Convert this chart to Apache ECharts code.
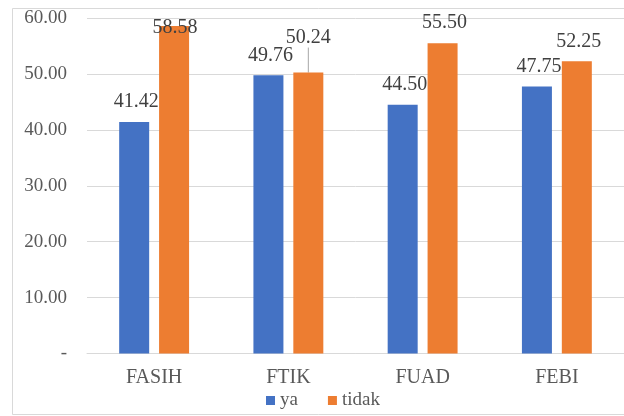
<!DOCTYPE html>
<html>
<head>
<meta charset="utf-8">
<script src="https://cdn.jsdelivr.net/npm/echarts@6/dist/echarts.min.js"></script>
<style>
html,body{margin:0;padding:0;background:#fff;}
#main{width:624px;height:416px;}
</style>
</head>
<body>
<div id="main"></div>
<script>
var categories = ['FASIH', 'FTIK', 'FUAD', 'FEBI'];
var yaValues = [41.42, 49.76, 44.50, 47.75];
var tidakValues = [58.58, 50.24, 55.50, 52.25];
var seriesNames = ['ya', 'tidak'];
var yTicks = [0, 10, 20, 30, 40, 50, 60];

var FONT = 'Liberation Serif';
var chart = echarts.init(document.getElementById('main'), null, {renderer: 'canvas'});

function labelStyle() {
  return {
    show: true, position: 'top', distance: 10,
    fontFamily: FONT, fontSize: 20, color: '#404040',
    formatter: function (p) { return p.value.toFixed(2); }
  };
}

var tidakData = tidakValues.map(function (v, i) {
  var d = {value: v};
  if (i === 1) d.labelLine = {show: true};
  return d;
});

chart.setOption({
  animation: false,
  backgroundColor: '#ffffff',
  graphic: [{
    type: 'rect', shape: {x: 12.5, y: 8.5, width: 640, height: 406},
    style: {fill: 'none', stroke: '#d9d9d9', lineWidth: 1}, silent: true, z: -1
  }],
  grid: {left: 87, width: 547, top: 18, bottom: 62.5},
  legend: {
    data: seriesNames, left: 261, bottom: 1, icon: 'rect',
    itemWidth: 9, itemHeight: 9, itemGap: 30,
    textStyle: {fontFamily: FONT, fontSize: 19, color: '#595959'}
  },
  xAxis: {
    type: 'category', data: categories,
    axisLine: {lineStyle: {color: '#d9d9d9'}},
    axisTick: {show: false},
    axisLabel: {fontFamily: FONT, fontSize: 20, color: '#595959', margin: 14}
  },
  yAxis: {
    type: 'value', min: yTicks[0], max: yTicks[yTicks.length - 1], interval: 10,
    axisLine: {show: false}, axisTick: {show: false},
    splitLine: {lineStyle: {color: '#d9d9d9'}},
    axisLabel: {
      fontFamily: FONT, fontSize: 19, color: '#595959', margin: 20,
      formatter: function (v) { return v === 0 ? '-' : v.toFixed(2); }
    }
  },
  series: [
    {
      name: seriesNames[0], type: 'bar', data: yaValues, barWidth: 30, barGap: '33%',
      itemStyle: {color: '#4472C4'}, label: labelStyle(),
      labelLayout: {dx: 2}
    },
    {
      name: seriesNames[1], type: 'bar', data: tidakData, barWidth: 30,
      itemStyle: {color: '#ED7D31'}, label: labelStyle(),
      labelLayout: function (p) {
        if (p.dataIndex === 0) return {dx: 1, dy: 22};
        if (p.dataIndex === 1) return {dy: -15};
        return {dx: 2};
      },
      labelLine: {show: false, lineStyle: {color: '#a6a6a6', width: 1}}
    }
  ]
});
</script>
</body>
</html>
